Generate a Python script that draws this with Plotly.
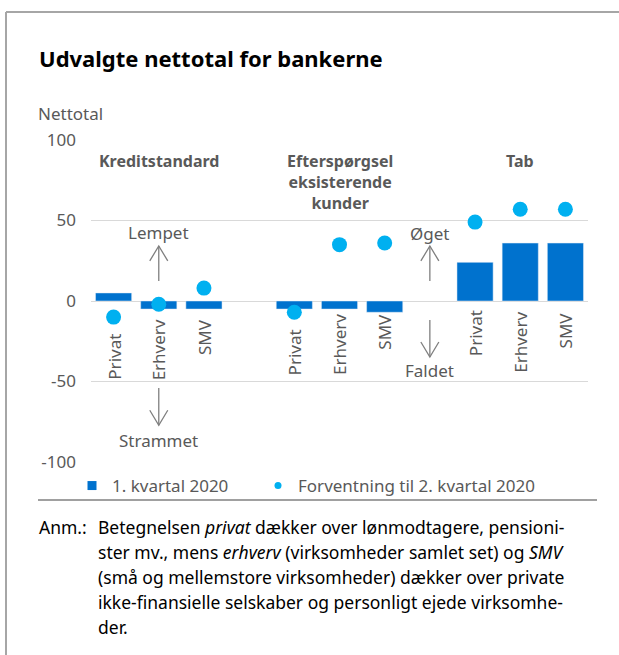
import plotly.graph_objects as go

# ---------------- data ----------------
groups = ["Kreditstandard", "Efterspørgsel<br>eksisterende<br>kunder", "Tab"]
sectors = ["Privat", "Erhverv", "SMV"]
q1_2020 = [5, -5, -5, -5, -5, -7, 24, 36, 36]
expected_q2 = [-10, -2, 8, -7, 35, 36, 49, 57, 57]
series_names = ["1. kvartal 2020", "Forventning til 2. kvartal 2020"]
y_ticks = [-100, -50, 0, 50, 100]
y_tick_text = ["-100", "-50", "0", "50", "100"]

# ---------------- layout constants ----------------
W, H = 619, 655
ML, MR, MT, MB = 91, 31, 140, 193
PW, PH = W - ML - MR, H - MT - MB
XMIN, XMAX = -0.5, 10.5
YMIN, YMAX = -100, 100
GRAY = "#595959"
FONT = "Noto Sans"
BAR_C = "#0072CE"
DOT_C = "#00B0F0"
TXT = 17

def px(xp):
    return (xp - ML) / PW

def py(yp):
    return (H - MB - yp) / PH

xpu = PW / (XMAX - XMIN)   # pixels per x unit
ypu = PH / (YMAX - YMIN)   # pixels per y unit

# positions: one empty slot between groups
xs, labels = [], []
for g in range(len(groups)):
    for i, s in enumerate(sectors):
        xs.append(g * (len(sectors) + 1) + i)
        labels.append(s)
group_centers = [g * (len(sectors) + 1) + (len(sectors) - 1) / 2 for g in range(len(groups))]

fig = go.Figure()
fig.add_trace(go.Bar(x=xs, y=q1_2020, name=series_names[0], marker_color=BAR_C,
                     showlegend=False, legendgroup="a"))
fig.add_trace(go.Scatter(x=xs, y=expected_q2, name=series_names[1], mode="markers",
                         marker=dict(color=DOT_C, size=15), showlegend=False, legendgroup="b"))
# legend entries (small symbols as in the original)
fig.add_trace(go.Scatter(x=[None], y=[None], name=series_names[0], mode="markers",
                         marker=dict(color=BAR_C, size=9, symbol="square"),
                         legendgroup="a", legend="legend"))
fig.add_trace(go.Scatter(x=[None], y=[None], name=series_names[1], mode="markers",
                         marker=dict(color=DOT_C, size=7, symbol="circle"),
                         legendgroup="b", legend="legend2"))

ann = []
# title, axis title
ann.append(dict(text="<b>Udvalgte nettotal for bankerne</b>", x=px(37), y=py(58), xref="paper", yref="paper",
                xanchor="left", yanchor="middle", showarrow=False, font=dict(size=22, color="#000000", family=FONT)))
ann.append(dict(text="Nettotal", x=px(36), y=py(113), xref="paper", yref="paper",
                xanchor="left", yanchor="middle", showarrow=False, font=dict(size=TXT, color=GRAY, family=FONT)))
# group headers
for gname, gc in zip(groups, group_centers):
    ann.append(dict(text="<b>%s</b>" % gname, x=gc, y=95, xref="x", yref="y", xanchor="center", yanchor="top",
                    showarrow=False, align="center", font=dict(size=16, color=GRAY, family=FONT)))
# sector labels (rotated)
label_tops = [-19.3, -10, -10, -16.2, -6.8, -6.8, -4.4, -5.6, -5.6]
for x, lab, yt in zip(xs, labels, label_tops):
    ann.append(dict(text=lab, x=x, y=yt, xref="x", yref="y", xanchor="center", yanchor="top", textangle=-90,
                    showarrow=False, font=dict(size=TXT, color=GRAY, family=FONT)))
# arrow texts
for t, x, y in [("Lempet", 1, 42.3), ("Strammet", 1, -86.5), ("Øget", 7, 41.7), ("Faldet", 7, -43.4)]:
    ann.append(dict(text=t, x=x, y=y, xref="x", yref="y", xanchor="center", yanchor="middle",
                    showarrow=False, font=dict(size=TXT, color=GRAY, family=FONT)))
# footnote
FS = 17.5
ann.append(dict(text="Anm.:", x=px(37), y=py(527), xref="paper", yref="paper", xanchor="left", yanchor="middle",
                showarrow=False, font=dict(size=FS, color="#000000", family=FONT)))
foot = ["Betegnelsen <i>privat</i> dækker over lønmodtagere, pensioni-",
        "ster mv., mens <i>erhverv</i> (virksomheder samlet set) og <i>SMV</i>",
        "(små og mellemstore virksomheder) dækker over private",
        "ikke-finansielle selskaber og personligt ejede virksomhe-",
        "der."]
for k, line in enumerate(foot):
    ann.append(dict(text=line, x=px(96), y=py(527 + 25 * k), xref="paper", yref="paper", xanchor="left",
                    yanchor="middle", showarrow=False, font=dict(size=FS, color="#000000", family=FONT)))

shapes = []
# frame
shapes.append(dict(type="line", xref="paper", yref="paper", x0=px(6), x1=px(619), y0=py(12), y1=py(12),
                   line=dict(color="#a6a6a6", width=2)))
shapes.append(dict(type="line", xref="paper", yref="paper", x0=px(6), x1=px(6), y0=py(12), y1=py(655),
                   line=dict(color="#a6a6a6", width=2)))
# line under legend
shapes.append(dict(type="line", xref="paper", yref="paper", x0=px(38), x1=px(597), y0=py(500), y1=py(500),
                   line=dict(color="#a0a0a0", width=2)))
# arrows
hw = 9 / xpu
hh = 15 / ypu
for x, y0, y1 in [(1, 12.4, 34.2), (1, -54.1, -77.2), (7, 12.4, 34.2), (7, -11.8, -34.8)]:
    shapes.append(dict(type="line", xref="x", yref="y", x0=x, x1=x, y0=y0, y1=y1,
                       line=dict(color="#7f7f7f", width=1.3)))
    d = 1 if y1 > y0 else -1
    shapes.append(dict(type="path", xref="x", yref="y",
                       path="M %f,%f L %f,%f L %f,%f" % (x - hw, y1 - d * hh, x, y1, x + hw, y1 - d * hh),
                       line=dict(color="#7f7f7f", width=1.3)))

fig.update_layout(
    width=W, height=H, margin=dict(l=ML, r=MR, t=MT, b=MB),
    paper_bgcolor="white", plot_bgcolor="white",
    font=dict(family=FONT, size=TXT, color=GRAY),
    bargap=0.2,
    xaxis=dict(range=[XMIN, XMAX], showticklabels=False, showgrid=False, zeroline=False, showline=False,
               fixedrange=True),
    yaxis=dict(range=[YMIN, YMAX], tickvals=y_ticks, ticktext=y_tick_text, showgrid=True,
               gridcolor="#d9d9d9", gridwidth=1,
               zeroline=True, zerolinecolor="#d9d9d9", zerolinewidth=1, showline=False,
               ticklabelstandoff=14, tickfont=dict(size=TXT, color=GRAY)),
    legend=dict(orientation="h", x=px(72), y=py(486), xanchor="left", yanchor="middle",
                font=dict(size=TXT, color=GRAY), bgcolor="rgba(0,0,0,0)"),
    legend2=dict(orientation="h", x=px(258), y=py(486), xanchor="left", yanchor="middle",
                 font=dict(size=TXT, color=GRAY), bgcolor="rgba(0,0,0,0)"),
    annotations=ann, shapes=shapes, showlegend=True,
)
fig.write_html("out.html")
